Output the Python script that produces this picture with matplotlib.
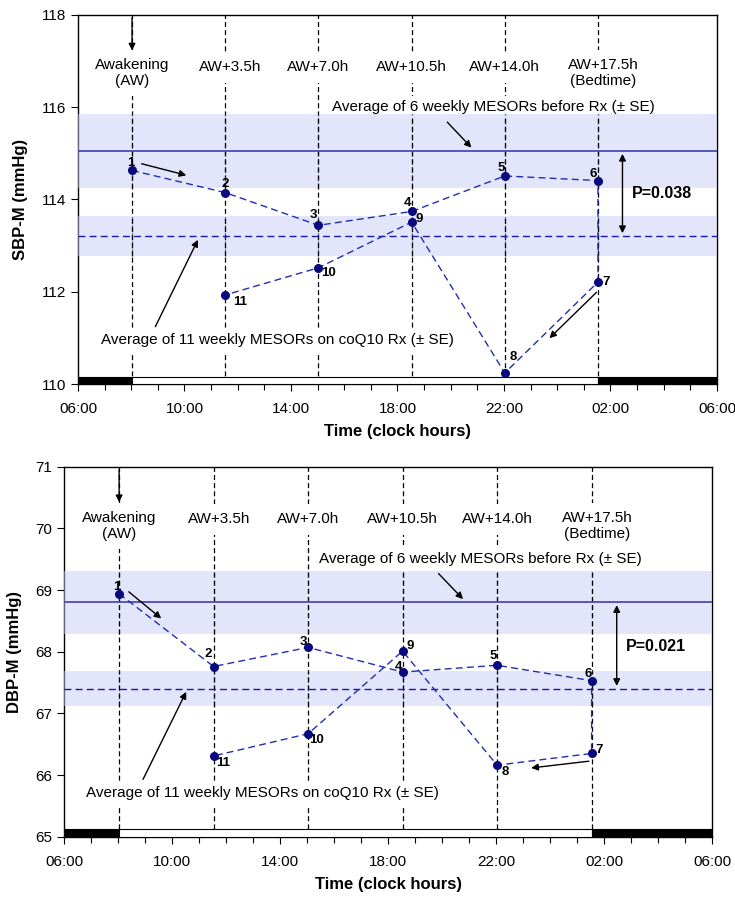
import matplotlib.pyplot as plt

plt.rcParams['font.family'] = ['Liberation Sans', 'DejaVu Sans']

# Awakening time (clock hours) and the offsets of the six sampling times
aw = 8.03
offsets = [0, 3.5, 7.0, 10.5, 14.0, 17.5]
time_labels = ['Awakening\n(AW)', 'AW+3.5h', 'AW+7.0h', 'AW+10.5h', 'AW+14.0h', 'AW+17.5h\n(Bedtime)']

# weekly order 1..11 -> sampling time index
week_slot = [0, 1, 2, 3, 4, 5, 5, 4, 3, 2, 1]
week_names = ['1', '2', '3', '4', '5', '6', '7', '8', '9', '10', '11']

sbp = [114.63, 114.15, 113.44, 113.74, 114.51, 114.41, 112.21, 110.24, 113.51, 112.52, 111.93]
dbp = [68.94, 67.76, 68.07, 67.67, 67.78, 67.53, 66.35, 66.16, 68.01, 66.67, 66.31]

# means (± SE) before and on coQ10
sbp_before, sbp_before_se = 115.05, 0.81
sbp_on, sbp_on_se = 113.21, 0.43
dbp_before, dbp_before_se = 68.80, 0.51
dbp_on, dbp_on_se = 67.40, 0.28

x_ticks = [6, 10, 14, 18, 22, 26, 30]
x_ticklabels = ['06:00', '10:00', '14:00', '18:00', '22:00', '02:00', '06:00']

# offsets (in pixels) of the weekly number labels
sbp_lab_off = [(-1, 7), (0, 9), (-5, 10), (-4, 8), (-4, 8), (-5, 7), (8, 0), (8, 16), (8, 3), (10, -5), (15, -7)]
dbp_lab_off = [(-2, 7), (-5, 13), (-5, 5), (-4, 5), (-4, 9), (-3, 7), (8, 3), (8, -7), (8, 5), (8, -6), (10, -7)]

fig = plt.figure(figsize=(7.35, 8.97), dpi=100)
ax1 = fig.add_axes([0.1061, 0.5719, 0.8694, 0.4114])
ax2 = fig.add_axes([0.0875, 0.0672, 0.8816, 0.4125])

vdash = (0, (4, 2.5))


def draw_panel(ax, vals, ylim, ylabel, before, bse, on, ose, lab_off, cfg):
    ymin, ymax = ylim
    xs = [aw + offsets[s] for s in week_slot]
    bed = aw + offsets[-1]
    vx = [aw + off for off in offsets]

    # vertical sampling-time lines and labels
    for x in vx:
        ax.axvline(x, color='black', ls=vdash, lw=0.9, zorder=1)
    for i, x in enumerate(vx):
        yy = cfg['lab2'] if '\n' in time_labels[i] else cfg['lab1']
        ax.text(x + cfg['labdx'][i], yy, time_labels[i], ha='center', va='center',
                fontsize=11, zorder=2, linespacing=1.15,
                bbox=dict(boxstyle='square,pad=0.55', fc='white', ec='none'))

    # SE bands, with the dashed verticals redrawn on top of them
    for m, se in ((before, bse), (on, ose)):
        ax.axhspan(m - se, m + se, color='#c9cdf6', alpha=0.5, lw=0, zorder=3)
        ax.vlines(vx, m - se, m + se, colors='black', linestyles=vdash, lw=0.9, zorder=3.5)
    ax.axhline(before, color='#4b4bb8', lw=1.3, zorder=4)
    ax.axhline(on, color='#1a1aa8', lw=1.0, ls=(0, (5, 3)), zorder=4)

    # series
    ax.plot(xs, vals, color='#1f2fb0', lw=1.0, ls=(0, (5, 3)), zorder=5)
    ax.plot(xs, vals, 'o', color='#0a0a80', ms=5.5, zorder=6)
    for name, x, v, (dx, dy) in zip(week_names, xs, vals, lab_off):
        ax.annotate(name, (x, v), xytext=(dx, dy), textcoords='offset pixels',
                    ha='center', va='center', fontsize=9.5, fontweight='bold', zorder=7)

    # annotation texts
    ax.text(cfg['avg6'][0], cfg['avg6'][1], 'Average of 6 weekly MESORs before Rx (± SE)',
            ha='center', va='center', fontsize=11, zorder=2,
            bbox=dict(boxstyle='square,pad=0.3', fc='white', ec='none'))
    ax.text(cfg['avg11'][0], cfg['avg11'][1], 'Average of 11 weekly MESORs on coQ10 Rx (± SE)',
            ha='center', va='center', fontsize=11, zorder=2,
            bbox=dict(boxstyle='square,pad=0.35', fc='white', ec='none'))
    ax.text(cfg['p'][0], cfg['p'][1], cfg['ptxt'], ha='left', va='center',
            fontsize=11.5, fontweight='bold', zorder=7)

    ap = dict(arrowstyle='-|>', color='black', lw=1.0, mutation_scale=10)
    for (x0, y0, x1, y1) in cfg['arrows']:
        ax.annotate('', xy=(x1, y1), xytext=(x0, y0), arrowprops=ap, zorder=7)
    ax.annotate('', xy=(aw, cfg['aw_arrow']), xytext=(aw, ymax), arrowprops=ap, zorder=7)
    ax.annotate('', xy=(cfg['p'][2], before), xytext=(cfg['p'][2], on),
                arrowprops=dict(arrowstyle='<|-|>', color='black', lw=1.0, mutation_scale=10),
                zorder=7)

    # day/night bar
    h = cfg['barh']
    ax.bar([6], [h], width=aw - 6, bottom=ymin, align='edge', color='black', ec='black', lw=0.8, zorder=8)
    ax.bar([aw], [h], width=bed - aw, bottom=ymin, align='edge', color='white', ec='black', lw=0.8, zorder=8)
    ax.bar([bed], [h], width=30 - bed, bottom=ymin, align='edge', color='black', ec='black', lw=0.8, zorder=8)

    ax.set_xlim(6, 30)
    ax.set_ylim(ymin, ymax)
    ax.set_xticks(x_ticks)
    ax.set_xticklabels(x_ticklabels)
    ax.set_xticks(range(6, 31), minor=True)
    ax.set_yticks(cfg['yticks'])
    ax.tick_params(direction='out', labelsize=11, length=5, width=0.8)
    ax.tick_params(which='minor', direction='out', length=4, width=0.8)
    ax.tick_params(axis='x', pad=8)
    ax.set_xlabel('Time (clock hours)', fontsize=12, fontweight='bold', labelpad=6)
    ax.set_ylabel(ylabel, fontsize=12, fontweight='bold', labelpad=10)
    for sp in ax.spines.values():
        sp.set_linewidth(1.0)


cfg1 = dict(lab1=116.87, lab2=116.74, labdx=[0, 0.2, 0, 0, 0, 0.2],
            avg6=(21.6, 116.0), avg11=(13.48, 110.95), p=(26.8, 114.14, 26.45),
            ptxt='P=0.038', aw_arrow=117.17, barh=0.145, yticks=[110, 112, 114, 116, 118],
            arrows=[(8.29, 114.79, 10.17, 114.51), (19.8, 115.72, 20.85, 115.08),
                    (8.86, 111.19, 10.55, 113.18), (25.55, 112.03, 23.63, 110.95)])
cfg2 = dict(lab1=70.15, lab2=70.04, labdx=[0, 0.2, 0, 0, 0, 0.2],
            avg6=(21.4, 69.5), avg11=(13.35, 65.71), p=(26.79, 68.09, 26.46),
            ptxt='P=0.021', aw_arrow=70.38, barh=0.125, yticks=[65, 66, 67, 68, 69, 70, 71],
            arrows=[(8.31, 69.0, 9.67, 68.51), (19.79, 69.30, 20.84, 68.82),
                    (8.87, 65.89, 10.56, 67.39), (25.53, 66.23, 23.19, 66.11)])

draw_panel(ax1, sbp, (110, 118), 'SBP-M (mmHg)', sbp_before, sbp_before_se, sbp_on, sbp_on_se, sbp_lab_off, cfg1)
draw_panel(ax2, dbp, (65, 71), 'DBP-M (mmHg)', dbp_before, dbp_before_se, dbp_on, dbp_on_se, dbp_lab_off, cfg2)

fig.savefig('out.png', dpi=100)
